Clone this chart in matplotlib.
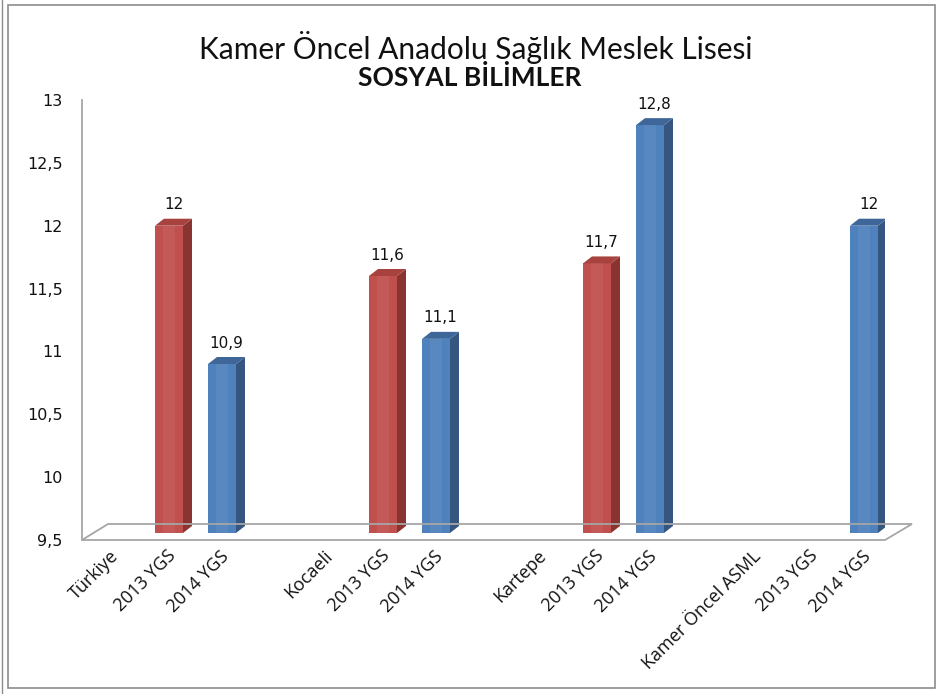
import matplotlib
matplotlib.use("Agg")
import matplotlib.pyplot as plt
from matplotlib.patches import Polygon, Rectangle
from matplotlib.lines import Line2D
from matplotlib.ticker import FuncFormatter

# ---------------- data ----------------
groups = ["Türkiye", "Kocaeli", "Kartepe", "Kamer Öncel ASML"]
series_labels = ["2013 YGS", "2014 YGS"]
values_2013 = [12, 11.6, 11.7, None]
values_2014 = [10.9, 11.1, 12.8, 12]
y_ticks = [9.5, 10, 10.5, 11, 11.5, 12, 12.5, 13]
title_line1 = "Kamer Öncel Anadolu Sağlık Meslek Lisesi"
title_line2 = "SOSYAL BİLİMLER"

# ---------------- layout (pixels) ----------------
W, H = 941, 694
fig = plt.figure(figsize=(W / 100, H / 100), dpi=100)
fig.patch.set_facecolor("white")

def fx(px):
    return px / W

def fy(py):
    return 1 - py / H

ax_left, ax_right, ax_top, ax_bot = 82, 885, 100, 540
ax = fig.add_axes([fx(ax_left), fy(ax_bot), (ax_right - ax_left) / W, (ax_bot - ax_top) / H])

px_per_group = 214.0
first_px = 169.0
ymin, ymax = y_ticks[0], y_ticks[-1]
px_per_y = (ax_bot - ax_top) / (ymax - ymin)

ax.set_xlim((ax_left - first_px) / px_per_group, (ax_right - first_px) / px_per_group)
ax.set_ylim(ymin, ymax)

off_2013 = 0.0
off_2014 = 53 / px_per_group
off_name = -57 / px_per_group
bar_w = 28 / px_per_group
depth_dx = 9 / px_per_group
depth_dy = 7 / px_per_y
base = ymin + 7 / px_per_y

styles = {
    "2013 YGS": dict(front="#C0504D", side="#8A3431", top="#A8423F"),
    "2014 YGS": dict(front="#4F81BD", side="#35577F", top="#3E6698"),
}

def draw_bar(xc, v, st):
    x0, x1 = xc - bar_w / 2, xc + bar_w / 2
    ax.bar(xc, v - base, bottom=base, width=bar_w, color=st["front"], zorder=3)
    ax.add_patch(Polygon([(x0 + bar_w * 0.3, base), (x1 - bar_w * 0.3, base),
                          (x1 - bar_w * 0.3, v), (x0 + bar_w * 0.3, v)],
                         closed=True, facecolor="white", alpha=0.06, lw=0, zorder=3.1))
    ax.add_patch(Polygon([(x1, base), (x1 + depth_dx, base + depth_dy),
                          (x1 + depth_dx, v + depth_dy), (x1, v)],
                         closed=True, facecolor=st["side"], lw=0, zorder=3))
    ax.add_patch(Polygon([(x0, v), (x1, v), (x1 + depth_dx, v + depth_dy),
                          (x0 + depth_dx, v + depth_dy)],
                         closed=True, facecolor=st["top"], lw=0, zorder=3))
    ax.annotate(f"{v:g}".replace(".", ","), xy=(xc + depth_dx / 2, v + depth_dy),
                xytext=(0, 10), textcoords="offset points", ha="center", va="center",
                fontsize=11, family="DejaVu Sans", color="#111111", zorder=5)

for g, name in enumerate(groups):
    for off, vals, lab in ((off_2013, values_2013, series_labels[0]),
                           (off_2014, values_2014, series_labels[1])):
        v = vals[g]
        if v is not None:
            draw_bar(g + off, v, styles[lab])

# x tick labels: group name, then the two series names
xticks, xlabels = [], []
for g, name in enumerate(groups):
    xticks += [g + off_name, g + off_2013, g + off_2014]
    xlabels += [name, series_labels[0], series_labels[1]]
ax.set_xticks([t - 2.5 / px_per_group for t in xticks])
ax.set_xticklabels(xlabels, rotation=45, ha="right", va="top", rotation_mode="anchor",
                   fontsize=13, family="Open Sans", color="#111111")
ax.tick_params(axis="x", length=0, pad=5)

ax.set_yticks(y_ticks)
ax.yaxis.set_major_formatter(FuncFormatter(lambda v, p: f"{v:g}".replace(".", ",")))
ax.tick_params(axis="y", length=0, pad=14, labelsize=11.5, labelcolor="#111111")

for s in ax.spines.values():
    s.set_visible(False)
ax.set_facecolor("none")
ax.patch.set_visible(False)

# vertical axis line and 3D floor (pixel layout)
fig.add_artist(Line2D([fx(82), fx(82)], [fy(100), fy(540)], color="#A6A6A6", lw=1.3))
floor = Polygon([(fx(82), fy(540)), (fx(885), fy(540)), (fx(912), fy(524)), (fx(108), fy(524))],
                closed=True, facecolor="none", edgecolor="#A6A6A6", lw=1.3,
                transform=fig.transFigure, zorder=1)
fig.add_artist(floor)

# titles
fig.text(fx(476), fy(47), title_line1, ha="center", va="center", fontsize=21.5,
         family="Lato", color="#111111")
fig.text(fx(470), fy(78), title_line2, ha="center", va="center", fontsize=19,
         family="Lato", weight="bold", color="#111111")

# chart frame
fig.add_artist(Rectangle((fx(8), fy(688)), (935 - 8) / W, (688 - 5) / H, fill=False,
                         edgecolor="#8C8C8C", lw=1.2, transform=fig.transFigure))
fig.add_artist(Line2D([fx(2), fx(2)], [0, 1], color="#8C8C8C", lw=1.0))

fig.savefig("out.png", dpi=100)
